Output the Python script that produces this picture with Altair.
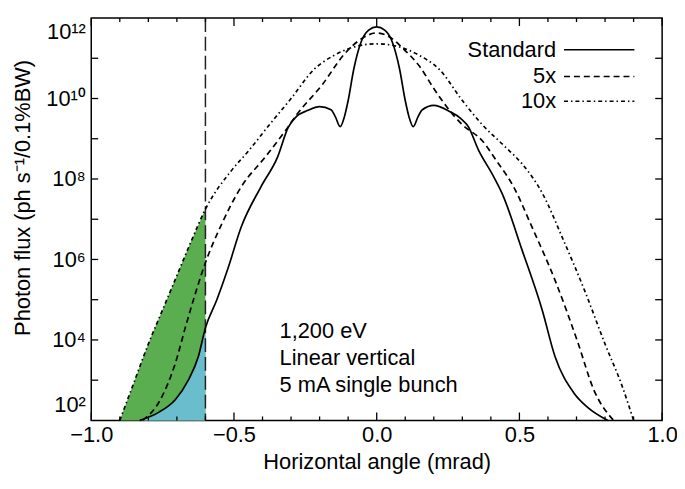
import altair as alt
import pandas as pd

# ---------------- data (log10 of photon flux) ----------------
std_angle = [-0.83, -0.764, -0.705, -0.66, -0.625, -0.6, -0.56, -0.52, -0.475, -0.406, -0.347,
             -0.31, -0.28, -0.243, -0.2, -0.16, -0.145, -0.128, -0.113, -0.1, -0.08, -0.055,
             -0.028, 0.0, 0.028, 0.055, 0.08, 0.1, 0.113, 0.128, 0.145, 0.16, 0.2, 0.255,
             0.295, 0.32, 0.358, 0.405, 0.44, 0.51, 0.58, 0.625, 0.69, 0.74, 0.81]
std_exp = [2.0, 2.2, 2.52, 3.0, 3.58, 4.3, 5.0, 5.8, 6.8, 7.8, 8.55,
           9.28, 9.56, 9.7, 9.8, 9.72, 9.55, 9.3, 9.55, 9.95, 10.74, 11.4,
           11.7, 11.78, 11.7, 11.4, 10.74, 9.95, 9.55, 9.3, 9.55, 9.72, 9.83, 9.68,
           9.5, 9.31, 8.7, 8.12, 7.63, 6.22, 4.74, 3.58, 2.69, 2.32, 2.0]

x5_angle = [-0.82, -0.764, -0.705, -0.67, -0.632, -0.6, -0.545, -0.475, -0.39, -0.32, -0.28,
            -0.19, -0.115, -0.05, 0.0, 0.045, 0.094, 0.15, 0.2, 0.25, 0.3, 0.37, 0.42,
            0.48, 0.545, 0.625, 0.705, 0.76, 0.83]
x5_exp = [2.0, 2.44, 3.43, 4.32, 5.23, 5.92, 6.85, 7.8, 8.55, 9.2, 9.6,
          10.35, 11.09, 11.5, 11.63, 11.53, 11.23, 10.8, 10.25, 9.75, 9.35, 8.95, 8.45,
          7.8, 6.79, 5.48, 3.93, 2.77, 2.0]

x10_angle = [-0.9, -0.85, -0.8, -0.75, -0.7, -0.65, -0.6, -0.51, -0.45,
             -0.37, -0.3, -0.22, -0.15, -0.08, 0.0, 0.08, 0.15, 0.22, 0.3,
             0.37, 0.45, 0.51, 0.58, 0.65, 0.73, 0.8, 0.86, 0.9]
x10_exp = [2.0, 2.95, 3.9, 4.75, 5.6, 6.45, 7.25, 8.2, 8.69,
           9.4, 10.0, 10.72, 11.07, 11.28, 11.36, 11.28, 11.07, 10.72, 9.95,
           9.35, 8.8, 8.37, 7.65, 6.55, 5.2, 3.9, 2.85, 2.0]

cut_angle = -0.6
series_names = ["Standard", "5x", "10x"]
annotation = ["1,200 eV", "Linear vertical", "5 mA single bunch"]

x_major = [-1.0, -0.5, 0.0, 0.5, 1.0]
x_minor = [-0.9, -0.8, -0.7, -0.6, -0.4, -0.3, -0.2, -0.1, 0.1, 0.2, 0.3, 0.4, 0.6, 0.7, 0.8, 0.9]
y_label_exp = [2, 4, 6, 8, 10, 12]
y_tick_exp = [3, 4, 5, 6, 7, 8, 9, 10, 11]


def frame(name, xs, es):
    return pd.DataFrame({"angle": xs, "flux": [10.0 ** e for e in es], "series": name})


std_df = frame("Standard", std_angle, std_exp)
x5_df = frame("5x", x5_angle, x5_exp)
x10_df = frame("10x", x10_angle, x10_exp)

W, H = 576, 406
FONT = "Liberation Sans"
FS = 22
GREEN = "#5aae4f"
BLUE = "#69bdcc"

xsc = alt.Scale(domain=[-1, 1], nice=False, zero=False)
ysc = alt.Scale(type="log", domain=[1e2, 1e12], nice=False)

sup = {2: "²", 4: "⁴", 6: "⁶", 8: "⁸", 10: "¹⁰", 12: "¹²"}
label_expr = " : ".join(
    [f"datum.value < {10.0 ** e * 1.5} ? '10{sup[e]}'" for e in y_label_exp]
) + " : ''"

X = alt.X("angle:Q", scale=xsc, axis=alt.Axis(
    values=x_major, format=".1f", ticks=False, domain=False, grid=False,
    labelFlush=False, labelFontSize=FS, labelPadding=4, labelColor="black",
    title="Horizontal angle (mrad)", titleFontSize=FS, titleFontWeight="normal",
    titlePadding=7, titleColor="black"))
Y = alt.Y("flux:Q", scale=ysc, axis=alt.Axis(
    values=[10.0 ** e for e in y_label_exp], labelExpr=label_expr, ticks=False,
    domain=False, grid=False, labelFontSize=FS, labelPadding=6, labelColor="black",
    labelFlush=True, labelFlushOffset=-4,
    title="Photon flux (ph s⁻¹/0.1%BW)", titleFontSize=FS, titleFontWeight="normal",
    titleColor="black", titleX=-57, titleY=181))

# shaded regions beyond the aperture edge
green = alt.Chart(x10_df[x10_df.angle <= cut_angle]).mark_area(
    color=GREEN, opacity=1, interpolate="monotone").encode(x=X, y=Y, y2=alt.datum(100))
blue = alt.Chart(std_df[std_df.angle <= cut_angle]).mark_area(
    color=BLUE, opacity=1, interpolate="monotone").encode(x=X, y=Y, y2=alt.datum(100))

vline = alt.Chart(pd.DataFrame({"angle": [cut_angle]})).mark_rule(
    color="#222222", strokeWidth=1.5, strokeDash=[14, 5]).encode(x=X)

line_std = alt.Chart(std_df).mark_line(
    color="black", strokeWidth=1.7, interpolate="monotone").encode(x=X, y=Y)
line_5 = alt.Chart(x5_df).mark_line(
    color="black", strokeWidth=1.7, strokeDash=[6, 4], interpolate="monotone").encode(x=X, y=Y)
line_10 = alt.Chart(x10_df).mark_line(
    color="black", strokeWidth=1.7, strokeDash=[4, 3, 1.5, 3], interpolate="monotone").encode(x=X, y=Y)

# inward ticks on all four sides
xmaj_df = pd.DataFrame({"angle": x_major})
xmin_df = pd.DataFrame({"angle": x_minor})
ytk_df = pd.DataFrame({"flux": [10.0 ** e for e in y_tick_exp]})
tick_style = dict(color="black", strokeWidth=1.3)
ticks = [
    alt.Chart(xmaj_df).mark_rule(**tick_style).encode(x=X, y=alt.value(H), y2=alt.value(H - 8)),
    alt.Chart(xmaj_df).mark_rule(**tick_style).encode(x=X, y=alt.value(0), y2=alt.value(8)),
    alt.Chart(xmin_df).mark_rule(**tick_style).encode(x=X, y=alt.value(H), y2=alt.value(H - 4)),
    alt.Chart(xmin_df).mark_rule(**tick_style).encode(x=X, y=alt.value(0), y2=alt.value(4)),
    alt.Chart(ytk_df).mark_rule(**tick_style).encode(y=Y, x=alt.value(0), x2=alt.value(7)),
    alt.Chart(ytk_df).mark_rule(**tick_style).encode(y=Y, x=alt.value(W), x2=alt.value(W - 7)),
]

# legend (labels left of the line samples)
leg_y = [32, 59, 84]
dashes = [None, [6, 4], [4, 3, 1.5, 3]]
legend = []
for name, yy, dsh in zip(series_names, leg_y, dashes):
    legend.append(alt.Chart(pd.DataFrame({"t": [name]})).mark_text(
        align="right", baseline="middle", fontSize=FS, font=FONT, color="black").encode(
        text="t:N", x=alt.value(469), y=alt.value(yy)))
    kw = dict(color="black", strokeWidth=1.6)
    if dsh:
        kw["strokeDash"] = dsh
    legend.append(alt.Chart(pd.DataFrame({"t": [name]})).mark_rule(**kw).encode(
        x=alt.value(477), x2=alt.value(548), y=alt.value(yy)))

ann = []
for txt, yy in zip(annotation, [316, 343, 370]):
    ann.append(alt.Chart(pd.DataFrame({"t": [txt]})).mark_text(
        align="left", baseline="middle", fontSize=FS, font=FONT, color="black").encode(
        text="t:N", x=alt.value(190), y=alt.value(yy)))

chart = alt.layer(green, blue, vline, line_std, line_5, line_10, *ticks, *legend, *ann).properties(
    width=W, height=H,
    padding={"left": 84, "top": 8, "right": 15, "bottom": 59},
    autosize=alt.AutoSizeParams(type="none"),
).configure(font=FONT).configure_view(stroke="black", strokeWidth=1.5)

chart.save("out.html", embed_options={"renderer": "svg", "actions": False})
